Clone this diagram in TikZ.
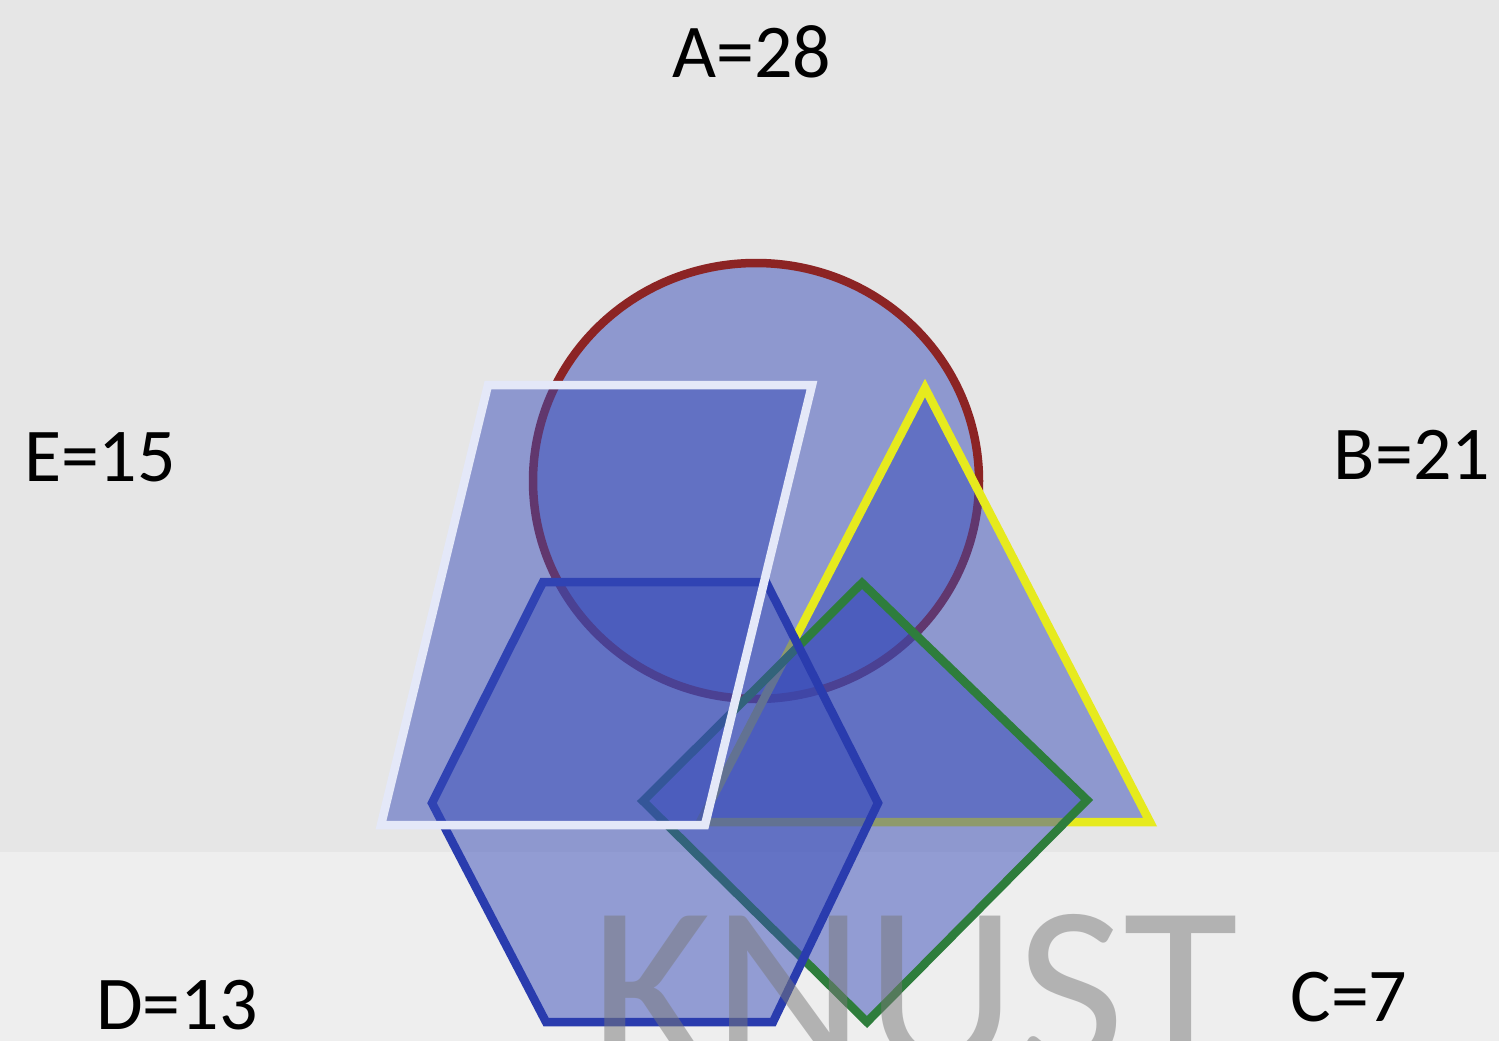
\documentclass[tikz,border=0pt]{standalone}
\usepackage{fontspec}
\setmainfont{Carlito}
\definecolor{bgtop}{RGB}{230,230,230}
\definecolor{bgbot}{RGB}{238,238,238}
\definecolor{shfill}{RGB}{55,75,185}
\definecolor{ellline}{RGB}{140,36,36}
\definecolor{parline}{RGB}{228,232,248}
\definecolor{triline}{RGB}{230,234,30}
\definecolor{diaLine}{RGB}{46,125,60}
\definecolor{hexline}{RGB}{42,60,174}
\definecolor{wmark}{RGB}{120,120,120}
\tikzset{
  shapebox/.style={fill=shfill, fill opacity=0.5, line width=8.5pt, line join=miter},
  lbl/.style={font=\fontsize{76}{80}\selectfont, text=black, inner sep=0pt},
}
\begin{document}
\begin{tikzpicture}[x=1pt,y=-1pt]
\useasboundingbox (0,0) rectangle (1499,1041);
\fill[bgtop] (0,0) rectangle (1499,852);
\fill[bgbot] (0,852) rectangle (1499,1041);
% circle
\draw[shapebox, draw=ellline] (756,481) ellipse [x radius=223, y radius=218];
% triangle
\draw[shapebox, draw=triline] (925,388) -- (1150,822) -- (700,822) -- cycle;
% diamond
\draw[shapebox, draw=diaLine] (862,583) -- (1087,800) -- (867,1022) -- (643,801) -- cycle;
% hexagon
\draw[shapebox, draw=hexline] (543,582) -- (766,582) -- (878,803) -- (773,1022) -- (546,1022) -- (432,803) -- cycle;
% parallelogram
\draw[shapebox, draw=parline] (488,385) -- (812,385) -- (705,825) -- (381,825) -- cycle;
% labels
\node[lbl] (A) at (752,52) {A=28};
\node[lbl] (B) at (1412,455) {B=21};
\node[lbl] (C) at (1349,997) {C=7};
\node[lbl] (D) at (177,1005) {D=13};
\node[lbl] (E) at (100,457) {E=15};
% watermark
\node[anchor=base west, inner sep=0pt, text=wmark, text opacity=0.5,
      font=\fontsize{236}{240}\selectfont] (wm) at (590,1067) {KNUST};
\end{tikzpicture}
\end{document}
